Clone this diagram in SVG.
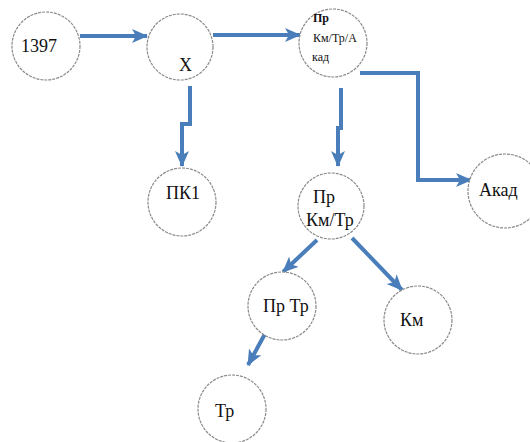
<svg xmlns="http://www.w3.org/2000/svg" width="530" height="442" viewBox="0 0 530 442">
<style>
.node circle{fill:#fff;stroke:#8a8a8a;stroke-width:1.2;stroke-dasharray:3 1}
.node text{font-family:"Liberation Serif","Times New Roman",serif;fill:#111;font-size:18px}
.node text.sm{font-size:12px}
.conn path{fill:none;stroke:#4a7ebb;stroke-width:4;marker-end:url(#ah)}
</style>
<defs>
<marker id="ah" markerUnits="userSpaceOnUse" markerWidth="16" markerHeight="16" viewBox="0 0 16 16" refX="15" refY="8" orient="auto">
<path d="M0,1 L16,8 L0,15 L4,8 Z" fill="#4a7ebb"/>
</marker>
</defs>
<rect width="530" height="442" fill="#fff"/>
<g id="connectors" class="conn">
<path d="M80,36 L147,36"/>
<path d="M213,35 L300,35"/>
<path d="M190,86 L190,124 L182,124 L182,166"/>
<path d="M341,88 L341,128 L338,128 L338,166"/>
<path d="M360,73 L418,73 L418,180 L471,180"/>
<path d="M317,240 L283,272"/>
<path d="M352,238 L402,290"/>
<path d="M266,332 L248,365"/>
</g>
<g id="n1397" class="node"><circle cx="46" cy="46" r="34"/><text x="21" y="52">1397</text></g>
<g id="nX" class="node"><circle cx="180" cy="47" r="33"/><text x="179" y="71">X</text></g>
<g id="nPrKmTrAkad" class="node"><circle cx="333" cy="43" r="34"/>
<text class="sm" x="313" y="22" font-weight="bold">Пр</text>
<text class="sm" x="313" y="42">Км/Тр/А</text>
<text class="sm" x="312" y="61">кад</text></g>
<g id="nPK1" class="node"><circle cx="182" cy="202" r="34"/><text x="166" y="199">ПК1</text></g>
<g id="nPrKmTr" class="node"><circle cx="331" cy="206" r="33"/><text x="313" y="203">Пр</text><text x="306" y="226">Км/Тр</text></g>
<g id="nAkad" class="node"><circle cx="505" cy="191" r="37"/><text x="479" y="196">Акад</text></g>
<g id="nPrTr" class="node"><circle cx="282" cy="306" r="34"/><text x="263" y="312">Пр Тр</text></g>
<g id="nKm" class="node"><circle cx="418" cy="320" r="34"/><text x="400" y="326">Км</text></g>
<g id="nTr" class="node"><circle cx="232" cy="409" r="34"/><text x="215" y="417">Тр</text></g>
</svg>
